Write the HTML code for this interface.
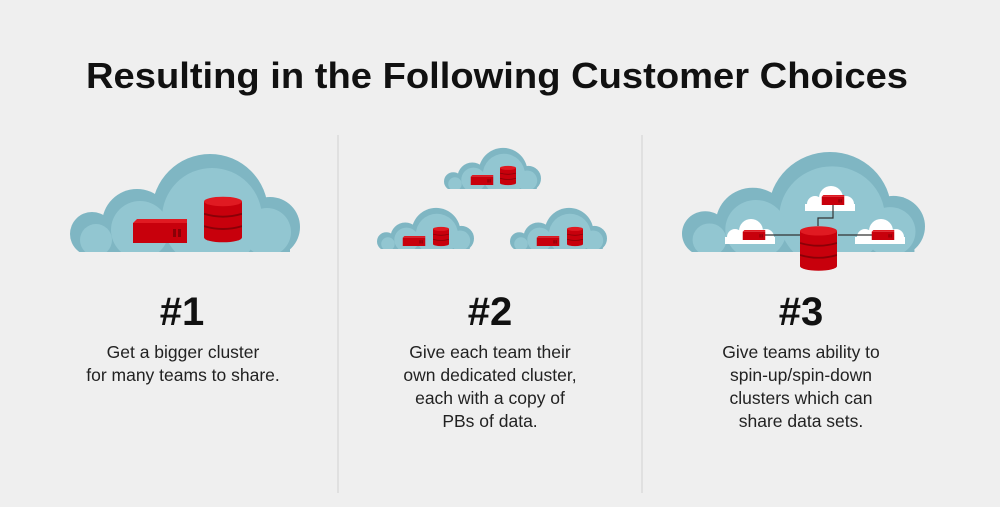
<!DOCTYPE html>
<html><head><meta charset="utf-8"><style>
html,body{margin:0;padding:0;background:#efefef;}
svg{display:block;font-family:"Liberation Sans",sans-serif;}
</style></head><body>
<svg width="1000" height="507" viewBox="0 0 1000 507" xmlns="http://www.w3.org/2000/svg">
<defs>
<clipPath id="cc"><rect x="0" y="0" width="230" height="100"/></clipPath>
<symbol id="cloud" viewBox="0 0 230 100" preserveAspectRatio="none">
<g clip-path="url(#cc)">
<g fill="#7fb6c3">
<circle cx="140" cy="60" r="58"/><circle cx="67" cy="72" r="35"/><circle cx="200" cy="75" r="30"/><circle cx="22" cy="82" r="22"/><rect x="20" y="80" width="200" height="20"/>
</g>
<g fill="#92c6d1">
<circle cx="142" cy="66" r="50"/><circle cx="70" cy="78" r="29"/><circle cx="197" cy="80" r="24"/><circle cx="26" cy="88" r="16"/>
</g>
</g>
</symbol>
<symbol id="wcloud" viewBox="0 0 60 26">
<g fill="#ffffff"><circle cx="32" cy="13" r="12"/><circle cx="16" cy="19" r="8"/><circle cx="47" cy="19" r="8"/><rect x="6" y="19" width="50" height="7"/></g>
</symbol>
<symbol id="db" viewBox="0 0 40 48">
<rect x="0" y="5" width="40" height="38" fill="#c8000c"/>
<ellipse cx="20" cy="43" rx="20" ry="5" fill="#c8000c"/>
<ellipse cx="20" cy="5" rx="20" ry="5" fill="#e01a22"/>
<path d="M0 18 Q20 24 40 18 M0 31 Q20 37 40 31" stroke="#8a0007" stroke-width="2" fill="none"/>
</symbol>
<symbol id="srv" viewBox="0 0 54 24">
<rect x="0" y="4" width="54" height="20" fill="#c8000c"/>
<path d="M0 4 L4 0 L54 0 L54 4 Z" fill="#e01a22"/>
<rect x="40" y="10" width="3" height="8" fill="#8a0007"/><rect x="45" y="10" width="3" height="8" fill="#8a0007"/>
</symbol>
</defs>

<text x="497" y="88" text-anchor="middle" font-size="36" font-weight="bold" fill="#111" textLength="822" lengthAdjust="spacingAndGlyphs">Resulting in the Following Customer Choices</text>

<line x1="338" y1="135" x2="338" y2="493" stroke="#dcdcdc" stroke-width="1.5"/>
<line x1="642" y1="135" x2="642" y2="493" stroke="#dcdcdc" stroke-width="1.5"/>

<!-- col 1 -->
<use href="#cloud" x="70" y="152" width="230" height="100"/>
<use href="#srv" x="133" y="219" width="54" height="24"/>
<use href="#db" x="204" y="196" width="38" height="47"/>

<!-- col 2 -->
<use href="#cloud" x="444" y="147" width="97" height="42"/>
<use href="#srv" x="470" y="175" width="24" height="10"/>
<use href="#db" x="500" y="165" width="16" height="21"/>
<use href="#cloud" x="377" y="207" width="97" height="42"/>
<use href="#srv" x="402" y="236" width="24" height="10"/>
<use href="#db" x="433" y="226" width="16" height="21"/>
<use href="#cloud" x="510" y="207" width="97" height="42"/>
<use href="#srv" x="536" y="236" width="24" height="10"/>
<use href="#db" x="567" y="226" width="16" height="21"/>

<!-- col 3 -->
<use href="#cloud" x="682" y="150" width="243" height="102"/>
<use href="#wcloud" x="799" y="185" width="60" height="26"/>
<use href="#wcloud" x="719" y="218" width="60" height="26"/>
<use href="#wcloud" x="849" y="218" width="60" height="26"/>
<path d="M833 205 V218 H818 V226 M765 235 H800 M838 235 H875" stroke="#333" stroke-width="1.2" fill="none"/>
<use href="#srv" x="821" y="195" width="24" height="10"/>
<use href="#srv" x="742" y="230" width="24" height="10"/>
<use href="#srv" x="871" y="230" width="24" height="10"/>
<use href="#db" x="800" y="226" width="37" height="45"/>

<g font-weight="bold" font-size="40" fill="#111" text-anchor="middle">
<text x="182" y="325">#1</text>
<text x="490" y="325">#2</text>
<text x="801" y="325">#3</text>
</g>
<g font-size="17.5" fill="#222" text-anchor="middle">
<text x="183" y="358">Get a bigger cluster</text>
<text x="183" y="381">for many teams to share.</text>
<text x="490" y="358">Give each team their</text>
<text x="490" y="381">own dedicated cluster,</text>
<text x="490" y="404">each with a copy of</text>
<text x="490" y="427">PBs of data.</text>
<text x="801" y="358">Give teams ability to</text>
<text x="801" y="381">spin-up/spin-down</text>
<text x="801" y="404">clusters which can</text>
<text x="801" y="427">share data sets.</text>
</g>
</svg>
</body></html>
